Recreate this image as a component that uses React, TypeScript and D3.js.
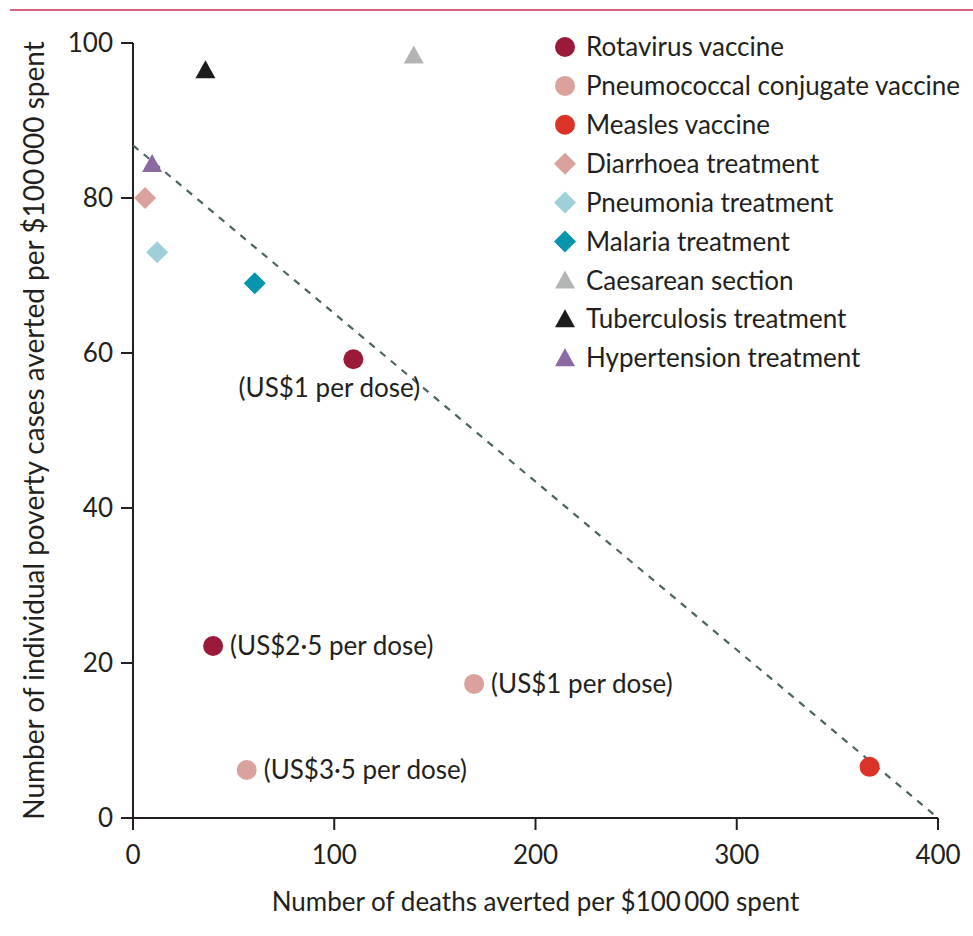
import * as d3 from 'd3'

const W = 973
const H = 936
const M = { top: 43, right: 35, bottom: 118, left: 133 }

// series
const SERIES = ['Rotavirus vaccine', 'Pneumococcal conjugate vaccine', 'Measles vaccine', 'Diarrhoea treatment', 'Pneumonia treatment', 'Malaria treatment', 'Caesarean section', 'Tuberculosis treatment', 'Hypertension treatment']
const COLORS = ['#9b1a3a', '#dba19d', '#db3328', '#dba19d', '#9fd0da', '#0596ad', '#b3b5b4', '#1c1c1c', '#8b6aa2']
const SHAPES = ['circle', 'circle', 'circle', 'diamond', 'diamond', 'diamond', 'triangle', 'triangle', 'triangle']

// points: series index, deaths averted, poverty cases averted, label
const PT_SERIES = [0, 0, 1, 1, 2, 3, 4, 5, 6, 7, 8]
const PT_X = [109.5, 39.8, 169.5, 56.5, 366, 6, 12, 60.5, 139.5, 36, 9.5]
const PT_Y = [59.2, 22.2, 17.3, 6.2, 6.6, 80, 73, 69, 98.4, 96.5, 84.4]
const PT_LABEL = ['(US$1 per dose)', '(US$2·5 per dose)', '(US$1 per dose)', '(US$3·5 per dose)', '', '', '', '', '', '', '']
const PT_LABEL_POS = ['below', 'right', 'right', 'right', '', '', '', '', '', '', '']

const X_TICKS = [0, 100, 200, 300, 400]
const Y_TICKS = [0, 20, 40, 60, 80, 100]
const FRONTIER_X = [0, 400]
const FRONTIER_Y = [86.8, 0]

const FONT = 'Lato, "Open Sans", sans-serif'
const INK = '#231f20'
const FS = 26

function Marker({ shape, color, cx, cy }: { shape: string; color: string; cx: number; cy: number }) {
  if (shape === 'circle') return <circle cx={cx} cy={cy} r={10} fill={color} />
  if (shape === 'diamond') {
    const s = 11
    return <path d={`M${cx},${cy - s}L${cx + s},${cy}L${cx},${cy + s}L${cx - s},${cy}Z`} fill={color} />
  }
  const s = 10
  return <path d={`M${cx},${cy - s}L${cx + s},${cy + s * 0.8}L${cx - s},${cy + s * 0.8}Z`} fill={color} />
}

export default function App() {
  const x = d3.scaleLinear().domain([0, 400]).range([M.left, W - M.right])
  const y = d3.scaleLinear().domain([0, 100]).range([H - M.bottom, M.top])
  const frontier = d3.line<number>()
    .x((_, i) => x(FRONTIER_X[i]))
    .y((d) => y(d))(FRONTIER_Y)

  return (
    <svg width={W} height={H} style={{ display: 'block', position: 'absolute', left: 0, top: 0 }} fontFamily={FONT}>
      <rect width={W} height={H} fill="#fff" />
      <line x1={10} x2={W} y1={10} y2={10} stroke="#d4667f" strokeWidth={2} />

      {/* y axis */}
      <line x1={x(0)} x2={x(0)} y1={y(100)} y2={y(0) + 12} stroke={INK} strokeWidth={2} />
      {Y_TICKS.map((t) => (
        <g key={`y${t}`}>
          <line x1={x(0) - 12} x2={x(0)} y1={y(t)} y2={y(t)} stroke={INK} strokeWidth={2} />
          <text x={x(0) - 20} y={y(t)} dy="0.35em" textAnchor="end" fontSize={FS} fill={INK}>{t}</text>
        </g>
      ))}
      {/* x axis */}
      <line x1={x(0) - 12} x2={x(400)} y1={y(0)} y2={y(0)} stroke={INK} strokeWidth={2} />
      {X_TICKS.map((t) => (
        <g key={`x${t}`}>
          <line x1={x(t)} x2={x(t)} y1={y(0)} y2={y(0) + 12} stroke={INK} strokeWidth={2} />
          <text x={x(t)} y={y(0) + 46} textAnchor="middle" fontSize={FS} fill={INK}>{t}</text>
        </g>
      ))}
      <text x={(x(0) + x(400)) / 2} y={y(0) + 93} textAnchor="middle" fontSize={FS} fill={INK}>
        Number of deaths averted per $100{'\u2009'}000 spent
      </text>
      <text transform={`translate(44,${(y(0) + y(100)) / 2}) rotate(-90)`} textAnchor="middle" fontSize={28} fill={INK}>
        Number of individual poverty cases averted per $100{'\u2009'}000 spent
      </text>

      {/* frontier */}
      <path d={frontier ?? ''} fill="none" stroke="#4b6363" strokeWidth={2.2} strokeDasharray="7 7" />

      {/* points */}
      {PT_X.map((v, i) => {
        const s = PT_SERIES[i]
        const cx = x(v)
        const cy = y(PT_Y[i])
        return (
          <g key={i}>
            <Marker shape={SHAPES[s]} color={COLORS[s]} cx={cx} cy={cy} />
            {PT_LABEL[i] && (
              PT_LABEL_POS[i] === 'below'
                ? <text x={cx - 24} y={cy + 38} textAnchor="middle" fontSize={FS} fill={INK}>{PT_LABEL[i]}</text>
                : <text x={cx + 17} y={cy} dy="0.35em" fontSize={FS} fill={INK}>{PT_LABEL[i]}</text>
            )}
          </g>
        )
      })}

      {/* legend */}
      {SERIES.map((name, i) => {
        const ly = 47 + i * 38.9
        return (
          <g key={name}>
            <Marker shape={SHAPES[i]} color={COLORS[i]} cx={565} cy={ly} />
            <text x={586} y={ly} dy="0.35em" fontSize={FS} fill={INK}>{name}</text>
          </g>
        )
      })}
    </svg>
  )
}
